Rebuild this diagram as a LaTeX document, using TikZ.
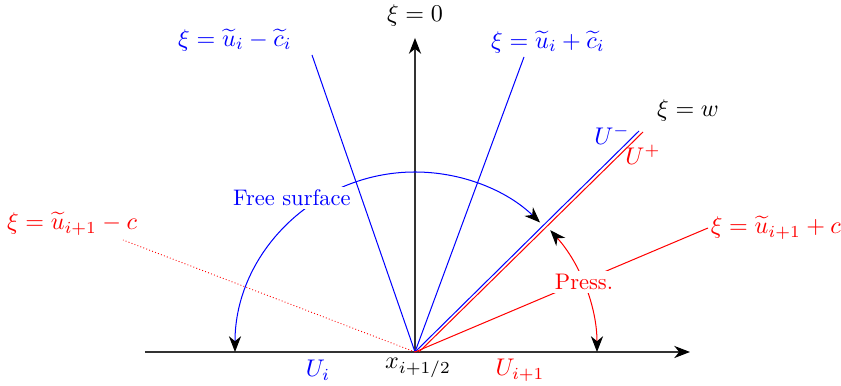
\documentclass[tikz,border=0pt]{standalone}
\usetikzlibrary{arrows.meta}
\definecolor{myblue}{RGB}{0,0,255}
\definecolor{myred}{RGB}{255,0,0}
\tikzset{
  tip/.tip={Stealth[length=7pt,width=5.4pt,inset=2.2pt,black]},
  axisline/.style={black!80,line width=0.5pt},
  bluel/.style={myblue,line width=0.45pt},
  redl/.style={myred,line width=0.45pt},
  lab/.style={inner sep=1pt,scale=1.07},
  boxlab/.style={fill=white,inner sep=1.5pt},
}
\begin{document}
\begin{tikzpicture}[x=0.444pt,y=0.444pt]
\useasboundingbox (-415,-34) rectangle (426,352);
\coordinate (O) at (0,0);
\coordinate (O2) at (4,0);
\coordinate (AL) at (-270,0);
\coordinate (AR) at (275,0);
\coordinate (AT) at (0,314);
\coordinate (BLe) at (-103,297);
\coordinate (BRe) at (109,295);
\coordinate (WB) at (224,221);
\coordinate (WR) at (228,220);
\coordinate (RR) at (293,124);
\coordinate (RL) at (-292,112);
% axes
\draw[axisline,-tip] (AL) -- (AR);
\draw[axisline,-tip] (O) -- (AT);
\node[lab] (xi0) at (0,337) {$\xi=0$};
% blue characteristic lines
\draw[bluel] (O) -- (BLe);
\draw[bluel] (O) -- (BRe);
\node[lab,text=myblue] (lbl) at (-180,312) {$\xi=\widetilde{u}_i-\widetilde{c}_i$};
\node[lab,text=myblue] (lbr) at (133,310) {$\xi=\widetilde{u}_i+\widetilde{c}_i$};
% contact line
\draw[bluel] (O) -- (WB);
\draw[redl] (O2) -- (WR);
\node[lab,text=myblue] (um) at (197,217) {$U^-$};
\node[lab,text=myred] (up) at (228,197) {$U^+$};
\node[lab] (xiw) at (273,242) {$\xi=w$};
% red lines
\draw[redl] (O) -- (RR);
\node[lab,text=myred,anchor=west] (lrr) at (RR) {$\xi=\widetilde{u}_{i+1}+c$};
\draw[myred,line width=0.4pt,densely dotted] (O) -- (RL);
\node[lab,text=myred] (lrl) at (-343,128) {$\xi=\widetilde{u}_{i+1}-c$};
% free surface arc
\draw[bluel,tip-tip] (-180,0) arc[start angle=180,end angle=46,radius=180];
\node[boxlab,text=myblue] (fs) at (-123,154) {Free surface};
% pressure arc
\draw[redl,tip-tip] (182,0) arc[start angle=0,end angle=42,radius=182];
\node[boxlab,text=myred] (pr) at (169,70) {Press.};
% bottom labels
\node[lab,text=myblue] (ui) at (-97,-18) {$U_i$};
\node[lab] (xh) at (3,-16) {$x_{i+1/2}$};
\node[lab,text=myred] (ui1) at (105,-18) {$U_{i+1}$};
\end{tikzpicture}
\end{document}
